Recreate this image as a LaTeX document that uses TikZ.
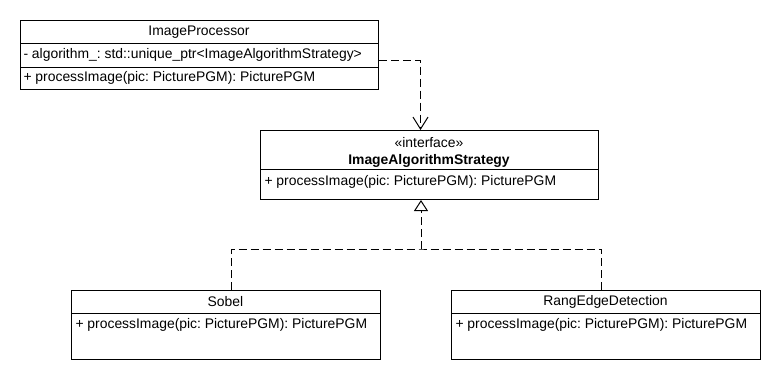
\documentclass[tikz,border=0pt]{standalone}
\usepackage{fontspec}
\setmainfont{Liberation Sans}
\frenchspacing
\usetikzlibrary{arrows.meta}

\begin{document}
\begin{tikzpicture}[x=1pt,y=-1pt,line width=1pt,font=\fontsize{13.9}{16}\selectfont,
  box/.style={draw,rectangle,anchor=north west,inner sep=0pt},
  member/.style={anchor=west,inner sep=0pt,text height=10pt,text depth=3pt},
  dashes/.style={dash pattern=on 8pt off 4pt},
  dep/.style={dashes,-{Straight Barb[length=12pt,width=15pt]}},
  real/.style={dashes,-{Triangle[open,length=11pt,width=14pt]}}]
\useasboundingbox[fill=white] (0,0) rectangle (780,380);

% context class
\node[box,minimum width=358pt,minimum height=69pt] (proc) at (20,20) {};
\node (procname) at (199,32) {ImageProcessor};
\draw ([yshift=-23pt]proc.north west) -- ([yshift=-23pt]proc.north east);
\node[member] (procattr) at (23,55) {- algorithm\_: std::unique\_ptr<ImageAlgorithmStrategy>};
\draw ([yshift=-47pt]proc.north west) -- ([yshift=-47pt]proc.north east);
\node[member] (procop) at (23,78) {+ processImage(pic: PicturePGM): PicturePGM};

% strategy interface
\node[box,minimum width=338pt,minimum height=69pt] (iface) at (260,130) {};
\node (ifacetag) at (429,143) {«interface»};
\node (ifacename) at (429,161) {\textbf{ImageAlgorithmStrategy}};
\draw ([yshift=-39pt]iface.north west) -- ([yshift=-39pt]iface.north east);
\node[member] (ifaceop) at (264,182) {+ processImage(pic: PicturePGM): PicturePGM};

% concrete strategies
\node[box,minimum width=309pt,minimum height=69pt] (sobel) at (71,290) {};
\node (sobelname) at (225.5,302) {Sobel};
\draw ([yshift=-23pt]sobel.north west) -- ([yshift=-23pt]sobel.north east);
\node[member] (sobelop) at (75,325) {+ processImage(pic: PicturePGM): PicturePGM};

\node[box,minimum width=309pt,minimum height=69pt] (rang) at (451,290) {};
\node (rangname) at (605.5,302) {RangEdgeDetection};
\draw ([yshift=-23pt]rang.north west) -- ([yshift=-23pt]rang.north east);
\node[member] (rangop) at (455,325) {+ processImage(pic: PicturePGM): PicturePGM};

% dependency
\draw[dep] ([yshift=-40pt]proc.north east) -| ([xshift=-9pt]iface.north);

% realization
\coordinate (fork) at (421,249);
\draw[dashes] ([xshift=5.5pt]sobel.north) |- (fork) -| ([xshift=-4.5pt]rang.north);
\draw[real] (fork) -- (fork |- iface.south);
\end{tikzpicture}
\end{document}
